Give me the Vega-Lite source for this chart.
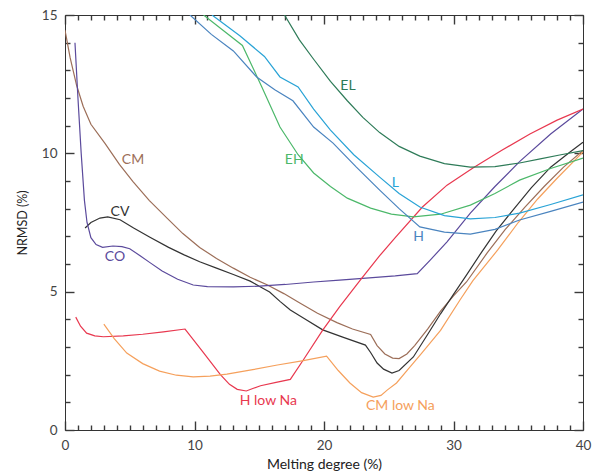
{
  "$schema": "https://vega.github.io/schema/vega-lite/v6.json",
  "width": 518,
  "height": 415,
  "autosize": {"type": "none"},
  "padding": {"left": 65, "top": 15, "right": 15, "bottom": 42},
  "background": "white",
  "config": {
    "view": {"stroke": null},
    "font": "Lato"
  },
  "datasets": {
    "lines": [
      {"s": "CM", "x": 0, "y": 14.45}, {"s": "CM", "x": 0.4, "y": 13.45}, {"s": "CM", "x": 0.9, "y": 12.45}, {"s": "CM", "x": 1.4, "y": 11.7}, {"s": "CM", "x": 2, "y": 11.05}, {"s": "CM", "x": 3.1, "y": 10.35}, {"s": "CM", "x": 4.2, "y": 9.6}, {"s": "CM", "x": 5.25, "y": 8.98}, {"s": "CM", "x": 6.5, "y": 8.3}, {"s": "CM", "x": 7.9, "y": 7.65}, {"s": "CM", "x": 9.1, "y": 7.1}, {"s": "CM", "x": 10.4, "y": 6.6}, {"s": "CM", "x": 11.7, "y": 6.2}, {"s": "CM", "x": 13, "y": 5.85}, {"s": "CM", "x": 14.3, "y": 5.52}, {"s": "CM", "x": 15.6, "y": 5.25}, {"s": "CM", "x": 16.9, "y": 4.93}, {"s": "CM", "x": 18.1, "y": 4.6}, {"s": "CM", "x": 19.5, "y": 4.22}, {"s": "CM", "x": 21, "y": 3.88}, {"s": "CM", "x": 22.2, "y": 3.65}, {"s": "CM", "x": 23.6, "y": 3.45}, {"s": "CM", "x": 24.1, "y": 3.05}, {"s": "CM", "x": 24.7, "y": 2.75}, {"s": "CM", "x": 25.3, "y": 2.6}, {"s": "CM", "x": 25.8, "y": 2.58}, {"s": "CM", "x": 26.4, "y": 2.75}, {"s": "CM", "x": 27, "y": 3.05}, {"s": "CM", "x": 28, "y": 3.65}, {"s": "CM", "x": 29, "y": 4.3}, {"s": "CM", "x": 30, "y": 4.85}, {"s": "CM", "x": 31, "y": 5.35}, {"s": "CM", "x": 32.6, "y": 6.4}, {"s": "CM", "x": 34, "y": 7.25}, {"s": "CM", "x": 35.5, "y": 8.05}, {"s": "CM", "x": 37, "y": 8.8}, {"s": "CM", "x": 38.5, "y": 9.5}, {"s": "CM", "x": 40, "y": 10.1},
      {"s": "CV", "x": 1.55, "y": 7.3}, {"s": "CV", "x": 2, "y": 7.5}, {"s": "CV", "x": 2.7, "y": 7.66}, {"s": "CV", "x": 3.3, "y": 7.7}, {"s": "CV", "x": 4.25, "y": 7.6}, {"s": "CV", "x": 5.3, "y": 7.3}, {"s": "CV", "x": 6.56, "y": 6.97}, {"s": "CV", "x": 8, "y": 6.6}, {"s": "CV", "x": 9.2, "y": 6.33}, {"s": "CV", "x": 10.4, "y": 6.08}, {"s": "CV", "x": 11.7, "y": 5.85}, {"s": "CV", "x": 13, "y": 5.62}, {"s": "CV", "x": 14.3, "y": 5.38}, {"s": "CV", "x": 15.1, "y": 5.17}, {"s": "CV", "x": 15.8, "y": 4.99}, {"s": "CV", "x": 16.6, "y": 4.65}, {"s": "CV", "x": 17.4, "y": 4.34}, {"s": "CV", "x": 18.5, "y": 4.02}, {"s": "CV", "x": 19.9, "y": 3.62}, {"s": "CV", "x": 21.5, "y": 3.35}, {"s": "CV", "x": 23.2, "y": 3.07}, {"s": "CV", "x": 23.6, "y": 2.8}, {"s": "CV", "x": 24.1, "y": 2.42}, {"s": "CV", "x": 24.6, "y": 2.2}, {"s": "CV", "x": 25.25, "y": 2.06}, {"s": "CV", "x": 25.8, "y": 2.15}, {"s": "CV", "x": 26.9, "y": 2.64}, {"s": "CV", "x": 28, "y": 3.45}, {"s": "CV", "x": 29, "y": 4.2}, {"s": "CV", "x": 30, "y": 4.9}, {"s": "CV", "x": 31, "y": 5.6}, {"s": "CV", "x": 32.2, "y": 6.45}, {"s": "CV", "x": 33.3, "y": 7.2}, {"s": "CV", "x": 34.4, "y": 7.84}, {"s": "CV", "x": 36, "y": 8.75}, {"s": "CV", "x": 37.5, "y": 9.5}, {"s": "CV", "x": 39, "y": 10.05}, {"s": "CV", "x": 40, "y": 10.4},
      {"s": "CO", "x": 0.77, "y": 14.0}, {"s": "CO", "x": 1.0, "y": 12.0}, {"s": "CO", "x": 1.25, "y": 10.0}, {"s": "CO", "x": 1.5, "y": 8.3}, {"s": "CO", "x": 1.7, "y": 7.5}, {"s": "CO", "x": 2.0, "y": 6.95}, {"s": "CO", "x": 2.4, "y": 6.7}, {"s": "CO", "x": 2.9, "y": 6.6}, {"s": "CO", "x": 3.7, "y": 6.65}, {"s": "CO", "x": 4.4, "y": 6.63}, {"s": "CO", "x": 5.0, "y": 6.55}, {"s": "CO", "x": 5.8, "y": 6.3}, {"s": "CO", "x": 6.56, "y": 6.05}, {"s": "CO", "x": 7.5, "y": 5.75}, {"s": "CO", "x": 8.7, "y": 5.45}, {"s": "CO", "x": 9.9, "y": 5.24}, {"s": "CO", "x": 11, "y": 5.18}, {"s": "CO", "x": 13, "y": 5.17}, {"s": "CO", "x": 15, "y": 5.2}, {"s": "CO", "x": 17, "y": 5.26}, {"s": "CO", "x": 19.2, "y": 5.35}, {"s": "CO", "x": 21.2, "y": 5.42}, {"s": "CO", "x": 23.5, "y": 5.5}, {"s": "CO", "x": 25.5, "y": 5.57}, {"s": "CO", "x": 27.2, "y": 5.65}, {"s": "CO", "x": 28.2, "y": 6.14}, {"s": "CO", "x": 29.5, "y": 6.8}, {"s": "CO", "x": 31.3, "y": 7.84}, {"s": "CO", "x": 33.2, "y": 8.8}, {"s": "CO", "x": 35.1, "y": 9.7}, {"s": "CO", "x": 37.5, "y": 10.7}, {"s": "CO", "x": 40, "y": 11.6},
      {"s": "H low Na", "x": 0.83, "y": 4.08}, {"s": "H low Na", "x": 1.2, "y": 3.75}, {"s": "H low Na", "x": 1.67, "y": 3.5}, {"s": "H low Na", "x": 2.3, "y": 3.4}, {"s": "H low Na", "x": 2.96, "y": 3.37}, {"s": "H low Na", "x": 4.5, "y": 3.4}, {"s": "H low Na", "x": 6, "y": 3.46}, {"s": "H low Na", "x": 7.6, "y": 3.55}, {"s": "H low Na", "x": 9.27, "y": 3.65}, {"s": "H low Na", "x": 10.6, "y": 2.85}, {"s": "H low Na", "x": 12, "y": 2.0}, {"s": "H low Na", "x": 12.7, "y": 1.65}, {"s": "H low Na", "x": 13.3, "y": 1.47}, {"s": "H low Na", "x": 14.0, "y": 1.41}, {"s": "H low Na", "x": 14.5, "y": 1.5}, {"s": "H low Na", "x": 15.1, "y": 1.6}, {"s": "H low Na", "x": 16.3, "y": 1.72}, {"s": "H low Na", "x": 17.4, "y": 1.83}, {"s": "H low Na", "x": 18.4, "y": 2.53}, {"s": "H low Na", "x": 19.9, "y": 3.61}, {"s": "H low Na", "x": 21.2, "y": 4.45}, {"s": "H low Na", "x": 22.8, "y": 5.42}, {"s": "H low Na", "x": 24.3, "y": 6.3}, {"s": "H low Na", "x": 25.5, "y": 6.95}, {"s": "H low Na", "x": 27.6, "y": 8.06}, {"s": "H low Na", "x": 29.5, "y": 8.85}, {"s": "H low Na", "x": 31.5, "y": 9.47}, {"s": "H low Na", "x": 33.7, "y": 10.1}, {"s": "H low Na", "x": 35.9, "y": 10.7}, {"s": "H low Na", "x": 38, "y": 11.2}, {"s": "H low Na", "x": 40, "y": 11.6},
      {"s": "CM low Na", "x": 3.0, "y": 3.83}, {"s": "CM low Na", "x": 3.8, "y": 3.3}, {"s": "CM low Na", "x": 4.77, "y": 2.78}, {"s": "CM low Na", "x": 6, "y": 2.4}, {"s": "CM low Na", "x": 7.3, "y": 2.13}, {"s": "CM low Na", "x": 8.6, "y": 1.98}, {"s": "CM low Na", "x": 9.9, "y": 1.92}, {"s": "CM low Na", "x": 11.2, "y": 1.95}, {"s": "CM low Na", "x": 12.5, "y": 2.02}, {"s": "CM low Na", "x": 14.5, "y": 2.18}, {"s": "CM low Na", "x": 16.4, "y": 2.35}, {"s": "CM low Na", "x": 18.3, "y": 2.5}, {"s": "CM low Na", "x": 20.2, "y": 2.67}, {"s": "CM low Na", "x": 21.1, "y": 2.15}, {"s": "CM low Na", "x": 22, "y": 1.7}, {"s": "CM low Na", "x": 22.9, "y": 1.35}, {"s": "CM low Na", "x": 23.8, "y": 1.19}, {"s": "CM low Na", "x": 24.4, "y": 1.25}, {"s": "CM low Na", "x": 24.9, "y": 1.45}, {"s": "CM low Na", "x": 25.6, "y": 1.7}, {"s": "CM low Na", "x": 26.5, "y": 2.2}, {"s": "CM low Na", "x": 27.5, "y": 2.75}, {"s": "CM low Na", "x": 29, "y": 3.6}, {"s": "CM low Na", "x": 30.5, "y": 4.7}, {"s": "CM low Na", "x": 31.5, "y": 5.4}, {"s": "CM low Na", "x": 33.4, "y": 6.5}, {"s": "CM low Na", "x": 35, "y": 7.5}, {"s": "CM low Na", "x": 36.5, "y": 8.35}, {"s": "CM low Na", "x": 38, "y": 9.1}, {"s": "CM low Na", "x": 40, "y": 10.05},
      {"s": "EL", "x": 16.95, "y": 15}, {"s": "EL", "x": 18.1, "y": 14.1}, {"s": "EL", "x": 19.2, "y": 13.4}, {"s": "EL", "x": 20.5, "y": 12.6}, {"s": "EL", "x": 21.8, "y": 11.9}, {"s": "EL", "x": 23, "y": 11.3}, {"s": "EL", "x": 24.3, "y": 10.75}, {"s": "EL", "x": 25.8, "y": 10.25}, {"s": "EL", "x": 27.4, "y": 9.9}, {"s": "EL", "x": 29.3, "y": 9.63}, {"s": "EL", "x": 31.3, "y": 9.5}, {"s": "EL", "x": 33.2, "y": 9.52}, {"s": "EL", "x": 35.1, "y": 9.65}, {"s": "EL", "x": 36.7, "y": 9.8}, {"s": "EL", "x": 38.2, "y": 9.94}, {"s": "EL", "x": 40, "y": 10.1},
      {"s": "EH", "x": 10.7, "y": 15}, {"s": "EH", "x": 12.2, "y": 14.45}, {"s": "EH", "x": 13.7, "y": 13.9}, {"s": "EH", "x": 15.2, "y": 12.4}, {"s": "EH", "x": 16.6, "y": 10.95}, {"s": "EH", "x": 18, "y": 9.95}, {"s": "EH", "x": 19.2, "y": 9.29}, {"s": "EH", "x": 20.5, "y": 8.8}, {"s": "EH", "x": 21.8, "y": 8.38}, {"s": "EH", "x": 23.6, "y": 8.02}, {"s": "EH", "x": 25.2, "y": 7.8}, {"s": "EH", "x": 26.9, "y": 7.7}, {"s": "EH", "x": 29, "y": 7.8}, {"s": "EH", "x": 31.3, "y": 8.13}, {"s": "EH", "x": 33.2, "y": 8.55}, {"s": "EH", "x": 35.1, "y": 9.03}, {"s": "EH", "x": 37.5, "y": 9.45}, {"s": "EH", "x": 40, "y": 9.83},
      {"s": "L", "x": 11.35, "y": 15}, {"s": "L", "x": 13.5, "y": 14.25}, {"s": "L", "x": 15.4, "y": 13.5}, {"s": "L", "x": 16.6, "y": 12.76}, {"s": "L", "x": 18.0, "y": 12.4}, {"s": "L", "x": 19.2, "y": 11.6}, {"s": "L", "x": 20.5, "y": 10.84}, {"s": "L", "x": 22.3, "y": 9.95}, {"s": "L", "x": 24.3, "y": 9.14}, {"s": "L", "x": 25.8, "y": 8.55}, {"s": "L", "x": 27.4, "y": 8.06}, {"s": "L", "x": 29.3, "y": 7.75}, {"s": "L", "x": 31.3, "y": 7.63}, {"s": "L", "x": 33.2, "y": 7.68}, {"s": "L", "x": 35.1, "y": 7.84}, {"s": "L", "x": 37.5, "y": 8.15}, {"s": "L", "x": 40, "y": 8.5},
      {"s": "H", "x": 9.65, "y": 15}, {"s": "H", "x": 11.3, "y": 14.3}, {"s": "H", "x": 13, "y": 13.7}, {"s": "H", "x": 14.8, "y": 12.76}, {"s": "H", "x": 16.2, "y": 12.3}, {"s": "H", "x": 17.6, "y": 11.9}, {"s": "H", "x": 19.2, "y": 10.95}, {"s": "H", "x": 20.7, "y": 10.37}, {"s": "H", "x": 22.5, "y": 9.5}, {"s": "H", "x": 24.3, "y": 8.67}, {"s": "H", "x": 25.8, "y": 8.0}, {"s": "H", "x": 27.4, "y": 7.34}, {"s": "H", "x": 29.3, "y": 7.15}, {"s": "H", "x": 31.3, "y": 7.08}, {"s": "H", "x": 33.2, "y": 7.25}, {"s": "H", "x": 35.1, "y": 7.59}, {"s": "H", "x": 37.5, "y": 7.9}, {"s": "H", "x": 40, "y": 8.24}
    ],
    "labels": [
      {"s": "CM", "x": 5.25, "y": 9.76},
      {"s": "CV", "x": 4.25, "y": 7.88},
      {"s": "CO", "x": 3.86, "y": 6.25},
      {"s": "EL", "x": 21.85, "y": 12.43},
      {"s": "EH", "x": 17.7, "y": 9.76},
      {"s": "L", "x": 25.5, "y": 8.93},
      {"s": "H", "x": 27.3, "y": 6.97},
      {"s": "H low Na", "x": 15.7, "y": 1.05},
      {"s": "CM low Na", "x": 25.9, "y": 0.87}
    ]
  },
  "layer": [
    {
      "data": {"name": "lines"},
      "mark": {"type": "line", "strokeWidth": 1.2, "clip": true},
      "encoding": {
        "x": {
          "field": "x", "type": "quantitative",
          "scale": {"domain": [0, 40], "nice": false, "zero": false},
          "axis": {
            "orient": "bottom",
            "grid": false,
            "ticks": true,
            "domainColor": "#333333",
            "tickColor": "#3a3a3a",
            "tickWidth": 1.4,
            "values": [0,1,2,3,4,5,6,7,8,9,10,11,12,13,14,15,16,17,18,19,20,21,22,23,24,25,26,27,28,29,30,31,32,33,34,35,36,37,38,39,40],
            "tickSize": {"condition": {"test": "datum.value % 10 === 0", "value": -9}, "value": -5},
            "labelExpr": "datum.value % 10 === 0 ? datum.label : ''",
            "labelPadding": 17,
            "labelFont": "Lato",
            "labelFontSize": 13.5,
            "labelColor": "#444444",
            "labelOverlap": false,
            "labelFlush": false,
            "title": "Melting degree (%)",
            "titleFont": "Lato",
            "titleFontSize": 14,
            "titleFontWeight": "normal",
            "titleColor": "#222222",
            "titlePadding": 2
          }
        },
        "y": {
          "field": "y", "type": "quantitative",
          "scale": {"domain": [0, 15], "nice": false},
          "axis": {
            "orient": "left",
            "grid": false,
            "ticks": true,
            "domainColor": "#333333",
            "tickColor": "#3a3a3a",
            "tickWidth": 1.4,
            "values": [0,1,2,3,4,5,6,7,8,9,10,11,12,13,14,15],
            "tickSize": {"condition": {"test": "datum.value % 5 === 0", "value": -9}, "value": -5},
            "labelExpr": "datum.value % 5 === 0 ? datum.label : ''",
            "labelPadding": 17,
            "labelFont": "Lato",
            "labelFontSize": 13.5,
            "labelColor": "#444444",
            "labelOverlap": false,
            "labelFlush": false,
            "title": "NRMSD (%)",
            "titleFont": "Lato",
            "titleFontSize": 12.5,
            "titleFontWeight": "normal",
            "titleColor": "#222222",
            "titlePadding": 12
          }
        },
        "color": {
          "field": "s", "type": "nominal",
          "scale": {
            "domain": ["CM", "CV", "CO", "H low Na", "CM low Na", "EL", "EH", "L", "H"],
            "range": ["#9c6e58", "#333333", "#5b4a9c", "#e8384f", "#f5a05c", "#2e7b58", "#4cb86a", "#29a3d6", "#4a84bf"]
          },
          "legend": null
        }
      }
    },
    {
      "data": {"name": "labels"},
      "mark": {"type": "text", "font": "Lato", "fontSize": 14},
      "encoding": {
        "x": {
          "field": "x", "type": "quantitative",
          "axis": {
            "orient": "top",
            "grid": false,
            "ticks": true,
            "domainColor": "#333333",
            "tickColor": "#3a3a3a",
            "tickWidth": 1.4,
            "values": [0,1,2,3,4,5,6,7,8,9,10,11,12,13,14,15,16,17,18,19,20,21,22,23,24,25,26,27,28,29,30,31,32,33,34,35,36,37,38,39,40],
            "tickSize": {"condition": {"test": "datum.value % 10 === 0", "value": -9}, "value": -5},
            "labels": false,
            "title": null
          }
        },
        "y": {
          "field": "y", "type": "quantitative",
          "axis": {
            "orient": "right",
            "grid": false,
            "ticks": true,
            "domainColor": "#333333",
            "tickColor": "#3a3a3a",
            "tickWidth": 1.4,
            "values": [0,1,2,3,4,5,6,7,8,9,10,11,12,13,14,15],
            "tickSize": {"condition": {"test": "datum.value % 5 === 0", "value": -9}, "value": -5},
            "labels": false,
            "title": null
          }
        },
        "text": {"field": "s"},
        "color": {"field": "s", "type": "nominal"}
      }
    }
  ]
}
